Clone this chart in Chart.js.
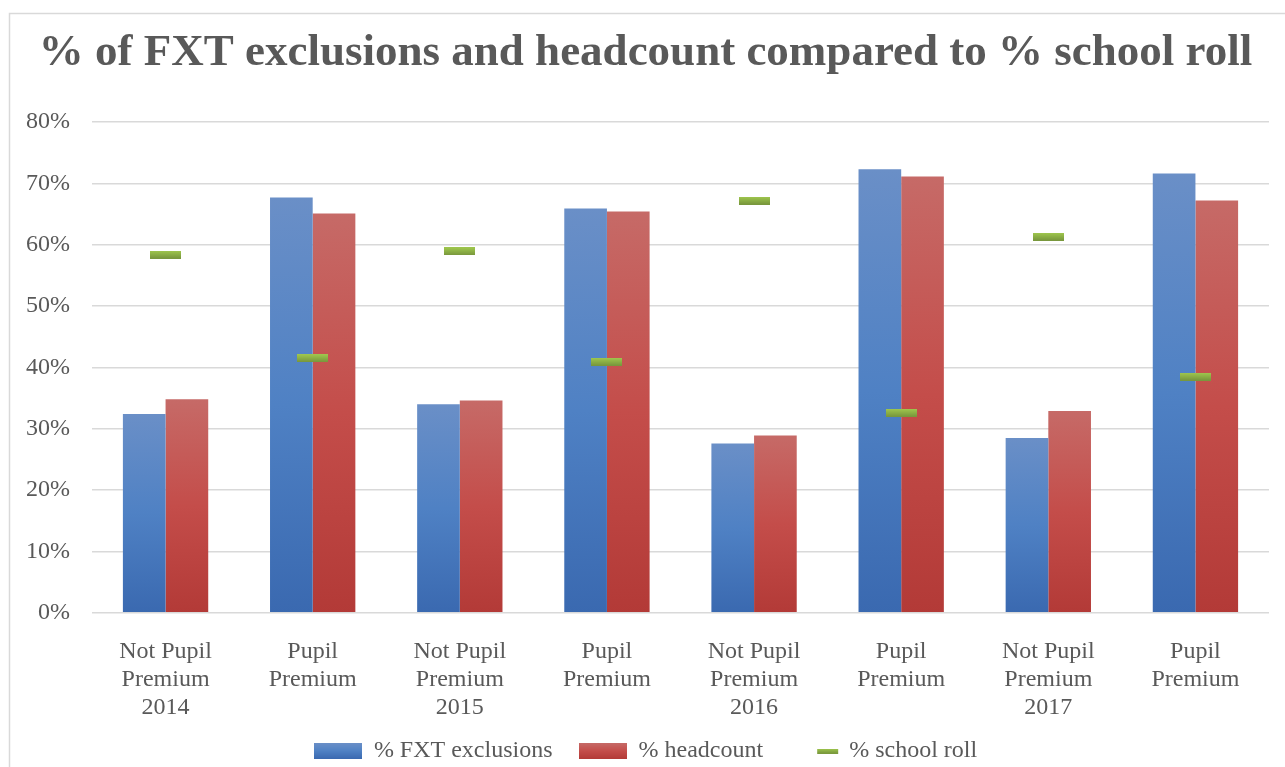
<!DOCTYPE html>
<html>
<head>
<meta charset="utf-8">
<script src="https://cdn.jsdelivr.net/npm/chart.js@4.4.1/dist/chart.umd.min.js"></script>
<style>
  html, body { margin: 0; padding: 0; background: #fff; }
  #wrap { position: absolute; left: 0; top: 0; width: 1285px; height: 767px; }
</style>
</head>
<body>
<div id="wrap"><canvas id="myChart"></canvas></div>
<script>
let categories = [
  ['Not Pupil', 'Premium', '2014'], ['Pupil', 'Premium'],
  ['Not Pupil', 'Premium', '2015'], ['Pupil', 'Premium'],
  ['Not Pupil', 'Premium', '2016'], ['Pupil', 'Premium'],
  ['Not Pupil', 'Premium', '2017'], ['Pupil', 'Premium']
]
let fxtExclusions = [32.4, 67.7, 34.0, 65.9, 27.6, 72.3, 28.5, 71.6]
let headcount     = [34.8, 65.1, 34.6, 65.4, 28.9, 71.1, 32.9, 67.2]
let schoolRoll    = [58.4, 41.5, 58.9, 40.9, 67.2, 32.6, 61.3, 38.5]
let seriesNames = ['% FXT exclusions', '% headcount', '% school roll']
let yTicks = [0, 10, 20, 30, 40, 50, 60, 70, 80]

const textGrey = '#595959'
const serif = "'Liberation Serif', 'Times New Roman', serif"

// light at the top, full colour in the middle, darker at the base
const blueStops = ['#6a8fc7', '#4f81c4', '#3a69b0']
const redStops  = ['#c66a67', '#c44d4a', '#b33a37']
const greenStops = ['#a0c84e', '#77953c']

function addStops(g, stops) {
  stops.forEach((c, i) => g.addColorStop(i / (stops.length - 1), c))
  return g
}

// small canvases used as point / legend markers
function swatch(w, h, stops, x0 = 0, x1 = w) {
  let c = document.createElement('canvas')
  c.width = w
  c.height = h
  let g = c.getContext('2d')
  g.fillStyle = addStops(g.createLinearGradient(0, 0, 0, h), stops)
  g.fillRect(x0, 0, x1 - x0, h)
  return c
}
const dash = swatch(31, 8, greenStops)
// the roll marker sits to the right of its slot
const legendMarks = [
  swatch(48, 16, blueStops),
  swatch(48, 16, redStops),
  swatch(62, 5, greenStops, 35, 56),
]

function barGradient(stops) {
  return (context) => {
    let chart = context.chart
    if (!chart.chartArea || context.raw == null) return stops[1]
    let y = chart.scales.y
    let top = y.getPixelForValue(context.raw)
    let bottom = y.getPixelForValue(0)
    return addStops(chart.ctx.createLinearGradient(0, top, 0, bottom), stops)
  }
}

// thin grey frame on the left and top edges
const frame = {
  id: 'frame',
  beforeDraw(chart) {
    let c = chart.ctx
    c.save()
    c.strokeStyle = '#d9d9d9'
    c.lineWidth = 1.5
    c.beginPath()
    c.moveTo(9.5, 767)
    c.lineTo(9.5, 13.5)
    c.lineTo(1285, 13.5)
    c.stroke()
    c.restore()
  }
}

// x axis was fitted 26px short; give its labels that room back below
const labelRoom = {
  id: 'labelRoom',
  afterLayout(chart) {
    chart.scales.x.bottom += 26
  }
}

let ctx = document.getElementById('myChart').getContext('2d')

let myChart = new Chart(ctx, {
  data: {
    labels: categories,
    datasets: [
      {
        type: 'line',
        label: seriesNames[2],
        data: schoolRoll,
        showLine: false,
        pointStyle: dash,
        pointHoverRadius: 0,
        order: 0,
      },
      {
        type: 'bar',
        label: seriesNames[0],
        data: fxtExclusions,
        backgroundColor: barGradient(blueStops),
        order: 1,
      },
      {
        type: 'bar',
        label: seriesNames[1],
        data: headcount,
        backgroundColor: barGradient(redStops),
        order: 1,
      },
    ],
  },
  options: {
    responsive: true,
    maintainAspectRatio: false,
    animation: false,
    layout: {
      padding: { left: 22, right: 16, top: 0, bottom: 0 },
    },
    datasets: {
      bar: { categoryPercentage: 0.58, barPercentage: 1.0 },
    },
    scales: {
      x: {
        grid: { display: false },
        border: { display: false },
        afterFit: (axis) => {
          axis.height -= 26
        },
        ticks: {
          color: textGrey,
          font: { family: serif, size: 24, lineHeight: 1.17 },
          padding: 17,
          maxRotation: 0,
          autoSkip: false,
        },
      },
      y: {
        min: 0,
        max: 80,
        afterBuildTicks: (axis) => {
          axis.ticks = yTicks.map(v => ({ value: v }))
        },
        afterFit: (axis) => {
          axis.width = 70
        },
        grid: { color: '#d9d9d9', lineWidth: 1.5, drawTicks: false },
        border: { display: false },
        ticks: {
          color: textGrey,
          font: { family: serif, size: 24 },
          padding: 22,
          callback: (v) => v + '%',
        },
      },
    },
    plugins: {
      title: {
        display: true,
        text: '% of FXT exclusions and headcount compared to % school roll',
        color: textGrey,
        font: { family: serif, size: 45, weight: 'bold' },
        padding: { top: 26, bottom: 42 },
      },
      legend: {
        position: 'bottom',
        maxHeight: 54,
        labels: {
          color: textGrey,
          font: { family: serif, size: 24 },
          usePointStyle: true,
          pointStyleWidth: 48,
          boxHeight: 16,
          padding: 26,
          generateLabels: (chart) => {
            // series order as listed, not by drawing order
            let order = [1, 2, 0]
            return order.map((di, i) => ({
              text: chart.data.datasets[di].label,
              pointStyle: legendMarks[i],
              fontColor: textGrey,
              lineWidth: 0,
              hidden: false,
              datasetIndex: di,
            }))
          },
        },
      },
      tooltip: { enabled: false },
    },
  },
  plugins: [frame, labelRoom],
})
</script>
</body>
</html>
